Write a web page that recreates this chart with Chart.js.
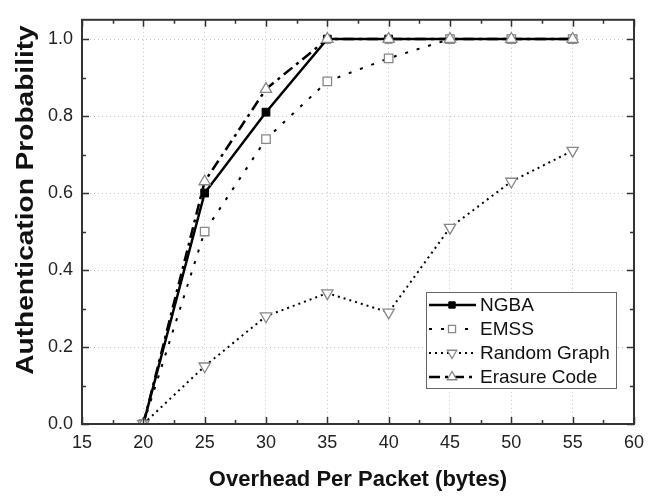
<!DOCTYPE html>
<html>
<head>
<meta charset="utf-8">
<script src="https://cdn.jsdelivr.net/npm/chart.js@4/dist/chart.umd.min.js"></script>
<style>
  html, body { margin: 0; padding: 0; background: #fff; }
  canvas { display: block; }
</style>
</head>
<body>
<canvas id="authChart" width="652" height="496"></canvas>
<script>
// overhead per packet (bytes)
const overhead = [20, 25, 30, 35, 40, 45, 50, 55];

// authentication probability per scheme
const ngba = [0, 0.60, 0.81, 1.0, 1.0, 1.0, 1.0, 1.0];
const emss = [0, 0.50, 0.74, 0.89, 0.95, 1.0, 1.0, 1.0];
const randomGraph = [0, 0.15, 0.28, 0.34, 0.29, 0.51, 0.63, 0.71];
const erasureCode = [0, 0.63, 0.87, 1.0, 1.0, 1.0, 1.0, 1.0];

const seriesNames = ["NGBA", "EMSS", "Random Graph", "Erasure Code"];

const xTicks = [15, 20, 25, 30, 35, 40, 45, 50, 55, 60];
const xMinorTicks = [17.5, 22.5, 27.5, 32.5, 37.5, 42.5, 47.5, 52.5, 57.5];
const yTicks = [0, 0.2, 0.4, 0.6, 0.8, 1.0];
const yMinorTicks = [0.1, 0.3, 0.5, 0.7, 0.9];

const xTitle = "Overhead Per Packet (bytes)";
const yTitle = "Authentication Probability";

const FONT = '"Liberation Sans", Arial, sans-serif';

const toPoints = (ys) => overhead.map((x, i) => ({ x, y: ys[i] }));

const datasets = [
  {
    label: seriesNames[0],
    data: toPoints(ngba),
    borderColor: "#000",
    borderWidth: 2.5,
    pointStyle: "rect",
    pointRadius: 5.5,
    pointBackgroundColor: "#000",
    pointBorderColor: "#000",
    pointBorderWidth: 1,
    order: 3
  },
  {
    label: seriesNames[1],
    data: toPoints(emss),
    borderColor: "#000",
    borderWidth: 2,
    borderDash: [3, 9],
    pointStyle: "rect",
    pointRadius: 6,
    pointBackgroundColor: "#fff",
    pointBorderColor: "#888",
    pointBorderWidth: 1.3,
    order: 2
  },
  {
    label: seriesNames[2],
    data: toPoints(randomGraph),
    borderColor: "#000",
    borderWidth: 2,
    borderDash: [2, 4],
    pointStyle: "triangle",
    pointRotation: 180,
    pointRadius: 6.5,
    pointBackgroundColor: "#fff",
    pointBorderColor: "#888",
    pointBorderWidth: 1.3,
    order: 1
  },
  {
    label: seriesNames[3],
    data: toPoints(erasureCode),
    borderColor: "#000",
    borderWidth: 2.5,
    borderDash: [11, 5, 3, 5],
    pointStyle: "triangle",
    pointRadius: 6.5,
    pointBackgroundColor: "#fff",
    pointBorderColor: "#888",
    pointBorderWidth: 1.3,
    order: 0
  }
];

// frame, inward ticks on all four sides, axis titles and the inset legend
const framePlugin = {
  id: "frame",
  afterDraw(chart) {
    const { ctx, chartArea: a, scales } = chart;
    const xs = scales.x, ys = scales.y;

    ctx.save();
    ctx.strokeStyle = "#333";
    ctx.lineWidth = 1.5;
    ctx.beginPath();
    const tick = (vals, len, horizontal) => {
      vals.forEach(v => {
        if (horizontal) {
          const px = Math.round(xs.getPixelForValue(v)) + 0.5;
          ctx.moveTo(px, a.bottom); ctx.lineTo(px, a.bottom - len);
          ctx.moveTo(px, a.top); ctx.lineTo(px, a.top + len);
        } else {
          const py = Math.round(ys.getPixelForValue(v)) + 0.5;
          ctx.moveTo(a.left, py); ctx.lineTo(a.left + len, py);
          ctx.moveTo(a.right, py); ctx.lineTo(a.right - len, py);
        }
      });
    };
    tick(xTicks, 7, true);
    tick(xMinorTicks, 4, true);
    tick(yTicks, 7, false);
    tick(yMinorTicks, 4, false);
    ctx.stroke();

    ctx.lineWidth = 2;
    ctx.strokeRect(a.left, a.top, a.right - a.left, a.bottom - a.top);

    // legend box
    const lx = 426, ly = 292, lw = 190, lh = 96, rowH = 24;
    ctx.fillStyle = "#fff";
    ctx.fillRect(lx, ly, lw, lh);
    ctx.strokeStyle = "#666";
    ctx.lineWidth = 1;
    ctx.strokeRect(lx + 0.5, ly + 0.5, lw, lh);

    chart.data.datasets.forEach((ds, i) => {
      const y = ly + 13 + i * rowH;
      ctx.save();
      ctx.strokeStyle = ds.borderColor;
      ctx.lineWidth = ds.borderWidth;
      ctx.setLineDash(ds.borderDash || []);
      ctx.beginPath();
      ctx.moveTo(lx + 3, y);
      ctx.lineTo(lx + 50, y);
      ctx.stroke();
      ctx.setLineDash([]);
      ctx.fillStyle = ds.pointBackgroundColor;
      ctx.strokeStyle = ds.pointBorderColor;
      ctx.lineWidth = ds.pointBorderWidth;
      Chart.helpers.drawPoint(ctx, {
        pointStyle: ds.pointStyle,
        rotation: ds.pointRotation || 0,
        radius: ds.pointRadius - 1,
        borderWidth: ds.pointBorderWidth
      }, lx + 26, y);
      ctx.restore();

      ctx.fillStyle = "#111";
      ctx.font = "19px " + FONT;
      ctx.textAlign = "left";
      ctx.textBaseline = "middle";
      ctx.fillText(ds.label, lx + 54, y + 1);
    });

    // axis titles
    ctx.fillStyle = "#111";
    ctx.textAlign = "center";
    ctx.textBaseline = "middle";
    ctx.font = "bold 22px " + FONT;
    ctx.fillText(xTitle, (a.left + a.right) / 2, 480);

    ctx.save();
    ctx.translate(26, 200);
    ctx.rotate(-Math.PI / 2);
    ctx.scale(1.17, 1);
    ctx.font = "bold 24px " + FONT;
    ctx.fillText(yTitle, 0, 0);
    ctx.restore();

    ctx.restore();
  }
};

new Chart(document.getElementById("authChart"), {
  type: "line",
  data: { datasets },
  options: {
    responsive: false,
    animation: false,
    layout: { padding: { top: 9, right: 12, left: 0, bottom: 0 } },
    plugins: {
      legend: { display: false },
      tooltip: { enabled: false }
    },
    elements: { line: { tension: 0 } },
    scales: {
      x: {
        type: "linear",
        min: 15,
        max: 60,
        afterBuildTicks: (s) => { s.ticks = xTicks.map(v => ({ value: v })); },
        afterFit: (s) => { s.height = 72; },
        ticks: {
          color: "#222",
          font: { family: FONT, size: 18 },
          padding: 8,
          maxRotation: 0
        },
        grid: { color: "#c4c4c4", lineWidth: 1, drawTicks: false },
        border: { display: false, dash: [1, 3] }
      },
      y: {
        type: "linear",
        min: 0,
        max: 1.05,
        afterBuildTicks: (s) => { s.ticks = yTicks.map(v => ({ value: v })); },
        afterFit: (s) => { s.width = 82; },
        ticks: {
          color: "#222",
          font: { family: FONT, size: 18 },
          padding: 9,
          callback: (v) => Number(v).toFixed(1)
        },
        grid: { color: "#c4c4c4", lineWidth: 1, drawTicks: false },
        border: { display: false, dash: [1, 3] }
      }
    }
  },
  plugins: [framePlugin]
});
</script>
</body>
</html>
